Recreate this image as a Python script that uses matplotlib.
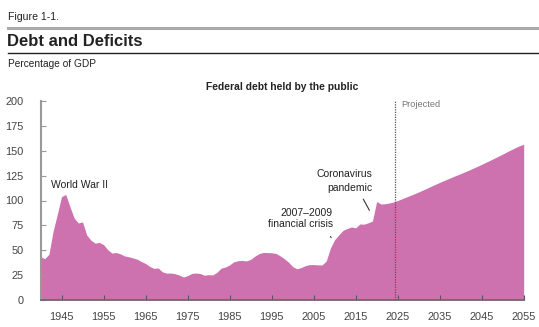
"""Federal debt held by the public, actual and projected, as a share of GDP."""

import matplotlib

matplotlib.use("Agg")
import matplotlib.pyplot as plt
import numpy as np
from matplotlib.lines import Line2D

plt.rcParams["font.family"] = ["Liberation Sans", "DejaVu Sans"]

# Historical series, 1940-2024 (percent of GDP)
actual_years = np.arange(1940, 2025)
actual_debt = [
    43.6, 41.5, 45.9, 69.2, 86.1, 103.9, 106.1, 93.9, 82.4, 77.4,
    78.5, 65.4, 60.1, 57.1, 57.9, 55.7, 50.6, 47.2, 47.7, 46.4,
    44.3, 43.5, 42.3, 41.0, 38.7, 36.7, 33.7, 31.8, 32.2, 28.3,
    27.0, 27.1, 26.4, 25.1, 23.1, 24.5, 26.7, 27.1, 26.6, 24.9,
    25.5, 25.2, 27.9, 32.1, 33.1, 35.3, 38.4, 39.5, 39.8, 39.3,
    40.8, 44.0, 46.6, 47.8, 47.7, 47.5, 46.8, 44.5, 41.6, 38.2,
    33.6, 31.4, 32.5, 34.5, 35.5, 35.6, 35.3, 35.2, 39.2, 52.2,
    60.6, 65.5, 70.0, 71.9, 73.4, 72.5, 76.4, 76.2, 77.6, 79.4,
    99.0, 96.5, 96.7, 97.5, 98.5,
]

# Projection, 2025-2055
projected_years = np.arange(2025, 2056)
projected_debt = [
    100.0, 101.7, 103.4, 105.1, 106.8, 108.6, 110.5, 112.4, 114.4, 116.3,
    118.2, 120.0, 121.8, 123.6, 125.3, 127.0, 128.8, 130.6, 132.5, 134.4,
    136.4, 138.4, 140.4, 142.5, 144.6, 146.7, 148.9, 151.0, 153.1, 155.0,
    156.5,
]

x_ticks = [1945, 1955, 1965, 1975, 1985, 1995, 2005, 2015, 2025, 2035, 2045, 2055]
y_ticks = [0, 25, 50, 75, 100, 125, 150, 175, 200]
projection_start = 2024.4

FILL = "#CE72AF"
TEXT = "#222222"
TICK_TEXT = "#444444"
NOTE_SIZE = 7.5

years = np.concatenate([actual_years, projected_years])
debt = np.concatenate([actual_debt, projected_debt])

W, H = 539, 327
fig = plt.figure(figsize=(W / 100, H / 100), dpi=100)
ax = fig.add_axes([40.5 / W, 27 / H, 483.2 / W, 199 / H])

ax.fill_between(years, 0, debt, color=FILL, linewidth=0)
ax.axvline(projection_start, color="#555555", linestyle=(0, (1, 1)), linewidth=0.9, zorder=3)

ax.set_xlim(1940, 2055)
ax.set_ylim(0, 200)
ax.set_xticks(x_ticks)
ax.set_yticks(y_ticks)
ax.tick_params(axis="both", direction="in", length=3.5, width=0.8, color="#555555",
               labelsize=7.9, labelcolor=TICK_TEXT)
ax.tick_params(axis="y", pad=12, color="#999999")
ax.tick_params(axis="x", pad=9)
for side in ("top", "right"):
    ax.spines[side].set_visible(False)
ax.spines["left"].set_color("#999999")
ax.spines["left"].set_linewidth(1.5)
ax.spines["bottom"].set_color("#666666")
ax.spines["bottom"].set_linewidth(1.2)
ax.set_facecolor("none")

# Event labels
ax.text(1942.6, 115.5, "World War II", fontsize=NOTE_SIZE, color=TEXT, ha="left", va="center")
ax.text(2009.6, 87, "2007\u20132009", fontsize=NOTE_SIZE, color=TEXT, ha="right", va="center")
ax.text(2009.6, 76.3, "financial crisis", fontsize=NOTE_SIZE, color=TEXT, ha="right", va="center")
ax.annotate("", xy=(2009.5, 60.3), xytext=(2008.7, 66.3),
            arrowprops=dict(arrowstyle="-", color="#333333", lw=0.8))
ax.text(2018.9, 126.6, "Coronavirus", fontsize=NOTE_SIZE, color=TEXT, ha="right", va="center")
ax.text(2018.9, 112.5, "pandemic", fontsize=NOTE_SIZE, color=TEXT, ha="right", va="center")
ax.annotate("", xy=(2018.6, 87.7), xytext=(2016.5, 103.8),
            arrowprops=dict(arrowstyle="-", color="#333333", lw=0.8))
ax.text(2025.9, 196, "Projected", fontsize=6.7, color="#777777", ha="left", va="center")

# Header block
fig.text(8 / W, 1 - 16.5 / H, "Figure 1-1.", fontsize=7.6, color=TEXT, ha="left", va="center")
fig.add_artist(Line2D([8 / W, 1.0], [1 - 28 / H] * 2, color="#AAAAAA", linewidth=2.2))
fig.text(7 / W, 1 - 42 / H, "Debt and Deficits", fontsize=12, fontweight="bold",
         color=TEXT, ha="left", va="center")
fig.add_artist(Line2D([8 / W, 1.0], [1 - 53 / H] * 2, color="#222222", linewidth=1.0))
fig.text(8 / W, 1 - 64 / H, "Percentage of GDP", fontsize=7.3, color=TEXT, ha="left", va="center")
fig.text(282 / W, 1 - 87 / H, "Federal debt held by the public", fontsize=7.4,
         fontweight="bold", color=TEXT, ha="center", va="center")

fig.savefig("out.png", dpi=100)
